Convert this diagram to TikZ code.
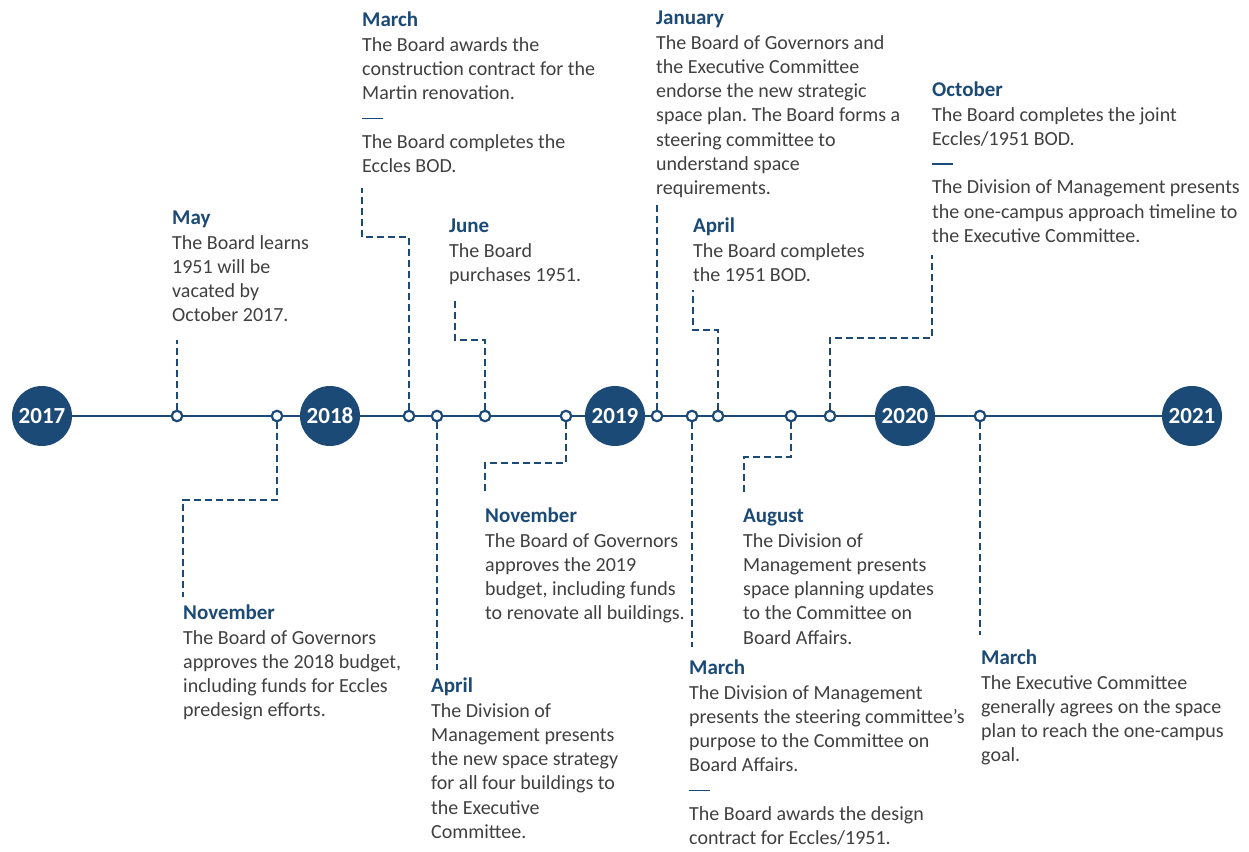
\documentclass[tikz,border=0pt]{standalone}
\usepackage{fontspec}
\setmainfont{Carlito}
\frenchspacing
\definecolor{navy}{RGB}{28,74,119}
\definecolor{bodygray}{RGB}{64,64,64}
\newcommand{\hd}[1]{\rule{0pt}{15pt}\textcolor{navy}{\fontsize{21}{24.3}\selectfont\bfseries #1}}
\newcommand{\sepline}{\textcolor{navy}{\rule[5pt]{21pt}{1.3pt}}}
\tikzset{
  evt/.style={anchor=north west, inner sep=0pt, align=left, text=bodygray, font=\fontsize{20}{24.3}\selectfont},
  yearc/.style={circle, fill=navy, minimum size=60pt, inner sep=0pt, text=white, font=\fontsize{23}{23}\selectfont\bfseries},
  dot/.style={circle, draw=navy, fill=white, line width=2.2pt, minimum size=10.5pt, inner sep=0pt},
  conn/.style={draw=navy, line width=2pt, dash pattern=on 7pt off 4pt},
  axisline/.style={draw=navy, line width=2pt},
}
\begin{document}
\begin{tikzpicture}[x=1pt,y=-1pt]
\fill[white] (0,0) rectangle (1249,851);
\useasboundingbox (0,0) rectangle (1249,851);

% year circles
\node[yearc] (y17) at (42,416) {2017};
\node[yearc] (y18) at (330,416) {2018};
\node[yearc] (y19) at (615,416) {2019};
\node[yearc] (y20) at (905,416) {2020};
\node[yearc] (y21) at (1192,416) {2021};
\draw[axisline] (y17) -- (y18);
\draw[axisline] (y18) -- (y19);
\draw[axisline] (y19) -- (y20);
\draw[axisline] (y20) -- (y21);

% event dots
\node[dot] (c1) at (177,416) {};
\node[dot] (c2) at (277,416) {};
\node[dot] (c3) at (409,416) {};
\node[dot] (c4) at (437,416) {};
\node[dot] (c5) at (485,416) {};
\node[dot] (c6) at (566,416) {};
\node[dot] (c7) at (657,416) {};
\node[dot] (c8) at (692,416) {};
\node[dot] (c9) at (718,416) {};
\node[dot] (c10) at (791,416) {};
\node[dot] (c11) at (830,416) {};
\node[dot] (c12) at (980,416) {};

% event texts
\node[evt] (e1) at (172,209.5) {\hd{May}\\The Board learns\\1951 will be\\vacated by\\October 2017.};
\node[evt] (e2) at (183,604.5) {\hd{November}\\The Board of Governors\\approves the 2018 budget,\\including funds for Eccles\\predesign efforts.};
\node[evt] (e3) at (362,11.5) {\hd{March}\\The Board awards the\\construction contract for the\\Martin renovation.\\\sepline\\The Board completes the\\Eccles BOD.};
\node[evt] (e4) at (431,677.5) {\hd{April}\\The Division of\\Management presents\\the new space strategy\\for all four buildings to\\the Executive\\Committee.};
\node[evt] (e5) at (449,217.5) {\hd{June}\\The Board\\purchases 1951.};
\node[evt] (e6) at (485,507.5) {\hd{November}\\The Board of Governors\\approves the 2019\\budget, including funds\\to renovate all buildings.};
\node[evt] (e7) at (656,9.5) {\hd{January}\\The Board of Governors and\\the Executive Committee\\endorse the new strategic\\space plan. The Board forms a\\steering committee to\\understand space\\requirements.};
\node[evt] (e8) at (689,659.5) {\hd{March}\\The Division of Management\\presents the steering committee’s\\purpose to the Committee on\\Board Affairs.\\\sepline\\The Board awards the design\\contract for Eccles/1951.};
\node[evt] (e9) at (693,217.5) {\hd{April}\\The Board completes\\the 1951 BOD.};
\node[evt] (e10) at (743,507.5) {\hd{August}\\The Division of\\Management presents\\space planning updates\\to the Committee on\\Board Affairs.};
\node[evt] (e11) at (932,81.5) {\hd{October}\\The Board completes the joint\\Eccles/1951 BOD.\\\sepline\\The Division of Management presents\\the one-campus approach timeline to\\the Executive Committee.};
\node[evt] (e12) at (981,649.5) {\hd{March}\\The Executive Committee\\generally agrees on the space\\plan to reach the one-campus\\goal.};

% connector points
\coordinate (t1) at (177,340);
\coordinate (k2) at (183,500); \coordinate (t2) at (183,597);
\coordinate (k3) at (362,237); \coordinate (t3) at (362,188);
\coordinate (t4) at (437,670);
\coordinate (k5) at (455,340); \coordinate (t5) at (455,300);
\coordinate (k6) at (485,463); \coordinate (t6) at (485,493);
\coordinate (t7) at (657,205);
\coordinate (t8) at (692,647);
\coordinate (k9) at (693,330); \coordinate (t9) at (693,290);
\coordinate (k10) at (744,457); \coordinate (t10) at (744,493);
\coordinate (k11) at (932,338); \coordinate (t11) at (932,255);
\coordinate (t12) at (980,635);

% connectors
\draw[conn] (c1.north) -- (t1);
\draw[conn] (c2.south) |- (k2) -- (t2);
\draw[conn] (c3.north) |- (k3) -- (t3);
\draw[conn] (c4.south) -- (t4);
\draw[conn] (c5.north) |- (k5) -- (t5);
\draw[conn] (c6.south) |- (k6) -- (t6);
\draw[conn] (c7.north) -- (t7);
\draw[conn] (c8.south) -- (t8);
\draw[conn] (c9.north) |- (k9) -- (t9);
\draw[conn] (c10.south) |- (k10) -- (t10);
\draw[conn] (c11.north) |- (k11) -- (t11);
\draw[conn] (c12.south) -- (t12);
\end{tikzpicture}
\end{document}
